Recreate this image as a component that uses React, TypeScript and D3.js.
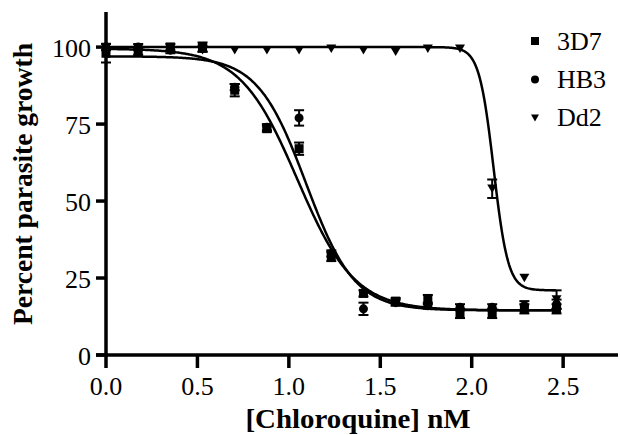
import React from "react";
import * as d3 from "d3";

// log10 concentration steps
const conc = [0, 0.176, 0.352, 0.528, 0.704, 0.88, 1.056, 1.232, 1.408, 1.584, 1.76, 1.936, 2.112, 2.288, 2.464];

const d3d7 = [98, 98.5, 100, 100, 86, 73.5, 67, 32, 20, 17.5, 18, 13.5, 13.5, 15, 15];
const d3d7Err = [3, 1, 1, 1.5, 2, 1, 2, 1.5, 1, 1, 1.5, 1.5, 1.5, 1.5, 1.5];
const hb3 = [100, 100, 99, 99.5, 87, 74, 77, 33, 15, 17, 16, 15.5, 15.5, 16, 16.5];
const hb3Err = [1, 1, 1, 1, 1, 1, 2.5, 1, 2, 1, 1, 1, 1, 1.5, 1.5];
const dd2 = [100, 99.5, 100, 99, 99, 99, 99, 99.5, 99, 98.5, 99.5, 99.5, 54, 25, 18];
const dd2Err = [0, 0, 0, 0, 0, 0, 0, 0, 0, 0, 0, 0, 3, 0, 3];

// 4PL fit parameters
const fitTop = [97, 99.5, 100];
const fitBottom = [14.5, 14.5, 21];
const fitLogEC50 = [1.094, 1.047, 2.12];
const fitHill = [3.28, 2.78, 11];

const xTicks = [0, 0.5, 1, 1.5, 2, 2.5];
const yTicks = [0, 25, 50, 75, 100];
const legendNames = ["3D7", "HB3", "Dd2"];

const serif = "'Liberation Serif', 'Times New Roman', serif";
const txt = { fontFamily: serif };

const x = d3.scaleLinear().domain([0, 2.8]).range([106, 618]);
const y = d3.scaleLinear().domain([0, 111.4]).range([355, 12]);

function Marker({ kind, cx, cy, s }: { kind: string; cx: number; cy: number; s: number }) {
  if (kind === "square") return <rect x={cx - s / 2} y={cy - s / 2} width={s} height={s} fill="#000" />;
  if (kind === "circle") return <circle cx={cx} cy={cy} r={s / 2} fill="#000" />;
  const h = s * 0.85;
  return (
    <path
      d={`M${cx - s / 2},${cy - h / 2}L${cx + s / 2},${cy - h / 2}L${cx},${cy + h / 2}Z`}
      fill="#000"
    />
  );
}

const series = [
  { vals: d3d7, err: d3d7Err, kind: "square", size: 9 },
  { vals: hb3, err: hb3Err, kind: "circle", size: 9 },
  { vals: dd2, err: dd2Err, kind: "triangle", size: 10 },
];

export default function App() {
  const curveX = d3.range(0, 2.4641, 0.005);
  const line = d3
    .line<number[]>()
    .x((d) => x(d[0]))
    .y((d) => y(d[1]));

  const curves = fitTop.map((top, i) =>
    curveX.map((c) => [
      c,
      fitBottom[i] + (top - fitBottom[i]) / (1 + Math.pow(10, (c - fitLogEC50[i]) * fitHill[i])),
    ])
  );

  return (
    <svg width={620} height={435} style={{ position: "absolute", left: 0, top: 0, background: "#fff" }}>
      {/* fit curves */}
      {curves.map((pts, i) => (
        <path key={i} d={line(pts) || ""} fill="none" stroke="#000" strokeWidth={2.5} />
      ))}

      {/* error bars */}
      {series.map((s, si) =>
        s.vals.map((v, i) => {
          if (!s.err[i]) return null;
          const cx = x(conc[i]);
          const y1 = y(v + s.err[i]);
          const y2 = y(v - s.err[i]);
          return (
            <g key={`e${si}-${i}`} stroke="#000" strokeWidth={2}>
              <line x1={cx} x2={cx} y1={y1} y2={y2} />
              <line x1={cx - 5} x2={cx + 5} y1={y1} y2={y1} />
              <line x1={cx - 5} x2={cx + 5} y1={y2} y2={y2} />
            </g>
          );
        })
      )}

      {/* markers */}
      {series.map((s, si) =>
        s.vals.map((v, i) => (
          <Marker key={`m${si}-${i}`} kind={s.kind} cx={x(conc[i])} cy={y(v)} s={s.size} />
        ))
      )}

      {/* axes */}
      <line x1={x(0)} x2={x(0)} y1={y.range()[1]} y2={y(0) + 1.5} stroke="#000" strokeWidth={3.5} />
      <line x1={96} x2={x.range()[1]} y1={y(0)} y2={y(0)} stroke="#000" strokeWidth={3.5} />
      {yTicks.map((t) => (
        <g key={`yt${t}`}>
          <line x1={96} x2={x(0)} y1={y(t)} y2={y(t)} stroke="#000" strokeWidth={3.5} />
          <text x={91} y={y(t) + 10} fontSize={26} textAnchor="end" style={txt}>
            {t}
          </text>
        </g>
      ))}
      {xTicks.map((t) => (
        <g key={`xt${t}`}>
          <line x1={x(t)} x2={x(t)} y1={y(0)} y2={y(0) + 13} stroke="#000" strokeWidth={3.5} />
          <text x={x(t)} y={395} fontSize={26} textAnchor="middle" style={txt}>
            {t.toFixed(1)}
          </text>
        </g>
      ))}

      {/* axis titles */}
      <text
        x={358}
        y={428}
        fontSize={27}
        fontWeight="bold"
        textAnchor="middle"
        textLength={225}
        lengthAdjust="spacingAndGlyphs"
        style={txt}
      >
        [Chloroquine] nM
      </text>
      <text
        transform="translate(32,184) rotate(-90)"
        fontSize={27}
        fontWeight="bold"
        textAnchor="middle"
        textLength={282}
        lengthAdjust="spacingAndGlyphs"
        style={txt}
      >
        Percent parasite growth
      </text>

      {/* legend */}
      {legendNames.map((n, i) => (
        <g key={n}>
          <Marker kind={series[i].kind} cx={535} cy={41 + i * 38.5} s={8} />
          <text x={557} y={50 + i * 38} fontSize={26} style={txt}>
            {n}
          </text>
        </g>
      ))}
    </svg>
  );
}
